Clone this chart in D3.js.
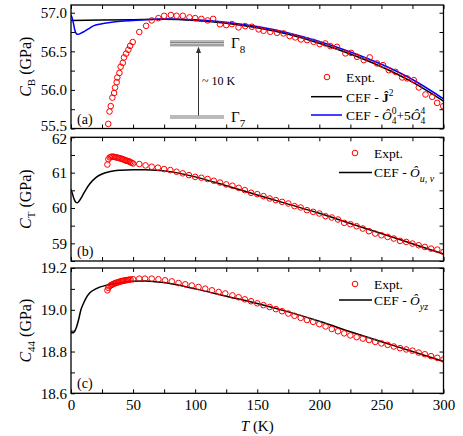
<!DOCTYPE html>
<html>
<head>
<meta charset="utf-8">
<script src="https://cdnjs.cloudflare.com/ajax/libs/d3/7.8.5/d3.min.js"></script>
<style>
body { margin: 0; background: #fff; }
svg text { font-family: "Liberation Serif", "Times New Roman", "DejaVu Serif", serif; fill: #000; }
.axis text { font-size: 15px; }
.axis line { stroke: #000; stroke-width: 1; }
.axis path { display: none; }
.legend text { font-size: 13.5px; }
</style>
</head>
<body>
<div class="chart-container"></div>
<script>
// ---------- Data ----------
// Panel (a): C_B
const tempExptA = [30, 31, 32, 33.3, 34.7, 35.5, 36.8, 37.3, 39, 40, 41.7, 42.7, 44.4, 46.2, 47.6, 49.7,
  55, 60.5, 65, 70.4, 75, 80.4, 85, 90, 95.4, 100, 105, 110, 114.5, 120, 125,
  129.6, 134.9, 140.3, 145.7, 151.1, 155.1, 160.5, 165.9, 171.2, 176.1, 180.6, 185.2, 190.1, 195.4,
  200.3, 204.8, 208.9, 214.2, 221, 225.5, 230.4, 235.8, 240.6, 246.5, 251.3, 255.9, 261.3, 266.7,
  270.7, 276.1, 280.1, 285.5, 290.9, 294.9, 299.8];
const cbExpt = [55.56, 55.72, 55.79, 55.90, 55.96, 56.03, 56.10, 56.16, 56.22, 56.30, 56.35, 56.42, 56.47, 56.52, 56.57, 56.62,
  56.75, 56.83, 56.90, 56.93, 56.96, 56.97, 56.96, 56.96, 56.94, 56.93, 56.92, 56.90, 56.92, 56.85, 56.84,
  56.853, 56.81, 56.827, 56.818, 56.784, 56.766, 56.753, 56.74, 56.732, 56.697, 56.68, 56.654, 56.645, 56.623,
  56.593, 56.602, 56.567, 56.558, 56.473, 56.48, 56.429, 56.386, 56.421, 56.343, 56.321, 56.256, 56.234, 56.161,
  56.149, 56.126, 56.032, 55.941, 55.91, 55.832, 55.789];
const tempJ2 = [0, 25, 50, 75, 100, 125, 150, 175, 200, 225, 250, 275, 300];
const cbJ2 = [56.90, 56.905, 56.91, 56.915, 56.90, 56.865, 56.805, 56.72, 56.605, 56.465, 56.30, 56.10, 55.855];
const tempO4 = [0, 1, 2, 3, 4, 5, 6, 8, 10, 14, 18, 24, 30, 40, 50, 75, 100, 125, 150, 175, 200, 225, 250, 275, 300];
const cbO4 = [56.97, 56.93, 56.86, 56.78, 56.735, 56.72, 56.72, 56.735, 56.75, 56.79, 56.83, 56.855, 56.87, 56.89, 56.90,
  56.92, 56.91, 56.878, 56.82, 56.738, 56.628, 56.492, 56.332, 56.135, 55.885];

// Panel (b): C_T
const tempExptB = [29.3, 30.1, 31.2, 32.3, 33.4, 34.5, 35.6, 36.7, 37.8, 38.9, 40, 41.1, 42.2, 43.3, 44.4, 45.5, 46.6, 47.7, 48.8, 50,
  55, 60, 65, 70, 75, 80, 85, 90, 95, 100, 105, 110, 115, 120, 125,
  130, 135, 140, 145, 150, 155, 160, 165, 170, 175, 180, 185, 190, 195, 200, 205, 210, 215, 220, 225,
  230, 235, 240, 245, 250, 255, 260, 265, 270, 275, 280, 285, 290, 295, 300];
const ctExpt = [61.23, 61.38, 61.43, 61.45, 61.45, 61.45, 61.44, 61.43, 61.42, 61.41, 61.40, 61.39, 61.37, 61.36, 61.34, 61.33, 61.32, 61.30, 61.28, 61.26,
  61.243, 61.205, 61.167, 61.14, 61.10, 61.073, 61.025, 60.98, 60.93, 60.88, 60.855, 60.82, 60.77, 60.72, 60.667,
  60.63, 60.57, 60.505, 60.43, 60.392, 60.335, 60.269, 60.222, 60.174, 60.127, 60.052, 60.014, 59.938, 59.891, 59.844,
  59.768, 59.73, 59.674, 59.579, 59.541, 59.484, 59.418, 59.343, 59.276, 59.229, 59.182, 59.135, 59.068, 59.04, 58.993,
  58.946, 58.898, 58.851, 58.823, 58.756];
const tempCefB = [0, 1, 2, 3, 4, 5, 6, 8, 10, 12, 15, 20, 25, 30, 40, 50, 60, 75, 100, 125, 150, 175, 200, 225, 250, 275, 300];
const ctCef = [60.52, 60.42, 60.30, 60.21, 60.16, 60.15, 60.17, 60.27, 60.40, 60.52, 60.68, 60.86, 60.96, 61.02, 61.07, 61.085,
  61.08, 61.05, 60.88, 60.63, 60.37, 60.11, 59.85, 59.56, 59.28, 58.99, 58.70];

// Panel (c): C_44
const tempExptC = [29.3, 30, 31, 32, 33, 34, 35, 36, 37, 38, 39, 40, 41, 42, 43, 44, 45, 46, 47, 48, 50,
  55, 59.6, 65, 70.4, 75.8, 81.2, 86.6, 92, 97.3, 102.7, 108.1, 113.5, 118.9, 124.2,
  130, 135, 140, 145, 150, 155, 160, 165, 170, 175, 180, 185, 190, 195, 200, 205, 210, 215, 220, 225,
  230, 235, 240, 245, 250, 255, 260, 265, 270, 275, 280, 285, 290, 295, 300];
const c44Expt = [19.093, 19.105, 19.112, 19.117, 19.12, 19.123, 19.126, 19.128, 19.13, 19.132, 19.134, 19.136, 19.137, 19.139, 19.14, 19.141, 19.142, 19.143, 19.144, 19.145, 19.146,
  19.149, 19.149, 19.149, 19.146, 19.141, 19.136, 19.128, 19.122, 19.116, 19.109, 19.101, 19.093, 19.085, 19.078,
  19.069, 19.060, 19.050, 19.041, 19.031, 19.022, 19.013, 19.003, 18.993, 18.982, 18.971, 18.961, 18.951, 18.942, 18.931,
  18.920, 18.908, 18.897, 18.887, 18.877, 18.869, 18.862, 18.855, 18.846, 18.839, 18.832, 18.824, 18.816, 18.810, 18.804,
  18.795, 18.787, 18.778, 18.770, 18.762];
const tempCefC = [0, 2, 4, 6, 8, 10, 12, 15, 20, 30, 40, 50, 60, 75, 100, 125, 150, 175, 200, 225, 250, 275, 300];
const c44Cef = [18.89, 18.89, 18.91, 18.95, 19.00, 19.03, 19.055, 19.08, 19.10, 19.12, 19.13, 19.137, 19.138, 19.13, 19.10,
  19.065, 19.03, 18.99, 18.945, 18.895, 18.847, 18.80, 18.752];

// Ticks
const xTicksMajor = [0, 50, 100, 150, 200, 250, 300];
const xTicksAll = [0, 25, 50, 75, 100, 125, 150, 175, 200, 225, 250, 275, 300];
const yTicksA = [55.5, 55.75, 56.0, 56.25, 56.5, 56.75, 57.0];
const yLabelsA = [55.5, 56.0, 56.5, 57.0];
const yTicksB = [58.5, 59, 59.5, 60, 60.5, 61, 61.5, 62];
const yLabelsB = [59, 60, 61, 62];
const yTicksC = [18.6, 18.7, 18.8, 18.9, 19.0, 19.1, 19.2];
const yLabelsC = [18.6, 18.8, 19.0, 19.2];

// ---------- Layout ----------
const W = 463, H = 436;
const left = 71, right = 443.5;
const xScale = d3.scaleLinear().domain([0, 300]).range([left, right]);

const svg = d3.select('.chart-container')
  .append('svg')
  .attr('width', W)
  .attr('height', H);

const zip = (xs, ys) => xs.map((x, i) => ({t: x, c: ys[i]}));

function drawPanel(cfg) {
  const yScale = d3.scaleLinear().domain(cfg.domain).range([cfg.bottom, cfg.top]);
  const g = svg.append('g').attr('class', 'panel');

  // Axes with inward ticks on all four sides
  const fmt = cfg.fmt;
  const yAxisG = g.append('g').attr('class', 'axis')
    .attr('transform', `translate(${left},0)`)
    .call(d3.axisLeft(yScale).tickValues(cfg.yTicks)
      .tickSizeInner(-4).tickSizeOuter(0).tickPadding(4)
      .tickFormat(d => cfg.yLabels.some(v => Math.abs(v - d) < 1e-6) ? fmt(d) : ''));
  // nudge the end labels apart where two panels meet
  if (cfg.lowShift) yAxisG.selectAll('.tick text').filter(d => d === cfg.domain[0]).attr('y', cfg.lowShift);
  if (cfg.highShift) yAxisG.selectAll('.tick text').filter(d => d === cfg.domain[1]).attr('y', cfg.highShift);
  g.append('g').attr('class', 'axis')
    .attr('transform', `translate(${right},0)`)
    .call(d3.axisRight(yScale).tickValues(cfg.yTicks).tickSizeInner(-4).tickSizeOuter(0).tickFormat(''));
  g.append('g').attr('class', 'axis')
    .attr('transform', `translate(0,${cfg.top})`)
    .call(d3.axisTop(xScale).tickValues(xTicksAll).tickSizeInner(-4).tickSizeOuter(0).tickFormat(''));
  g.append('g').attr('class', 'axis')
    .attr('transform', `translate(0,${cfg.bottom})`)
    .call(d3.axisBottom(xScale).tickValues(xTicksAll)
      .tickSizeInner(-4).tickSizeOuter(0).tickPadding(6)
      .tickFormat(d => (cfg.xLabels && xTicksMajor.includes(d)) ? d : ''));

  // Clip and curves
  const clipId = 'clip-' + cfg.name;
  g.append('clipPath').attr('id', clipId)
    .append('rect')
    .attr('x', left).attr('y', cfg.top)
    .attr('width', right - left).attr('height', cfg.bottom - cfg.top);

  const line = d3.line()
    .x(d => xScale(d.t))
    .y(d => yScale(d.c))
    .curve(d3.curveMonotoneX);

  const plot = g.append('g').attr('clip-path', `url(#${clipId})`);
  cfg.lines.forEach(l => {
    plot.append('path')
      .datum(zip(l.t, l.c))
      .attr('d', line)
      .attr('fill', 'none')
      .attr('stroke', l.color)
      .attr('stroke-width', 1.5);
  });

  plot.append('g')
    .selectAll('circle')
    .data(zip(cfg.exptT, cfg.exptC))
    .join('circle')
    .attr('cx', d => xScale(d.t))
    .attr('cy', d => yScale(d.c))
    .attr('r', 2.8)
    .attr('fill', 'none')
    .attr('stroke', '#ff0000')
    .attr('stroke-width', 1);

  // Frame
  g.append('rect')
    .attr('x', left).attr('y', cfg.top)
    .attr('width', right - left).attr('height', cfg.bottom - cfg.top)
    .attr('fill', 'none')
    .attr('stroke', '#000')
    .attr('stroke-width', 1.3);

  // Panel letter
  g.append('text')
    .attr('x', left + 6).attr('y', cfg.bottom - 5)
    .style('font-size', '14px')
    .text(cfg.letter);

  // Y title
  const mid = (cfg.top + cfg.bottom) / 2;
  const yt = g.append('text')
    .attr('transform', `translate(31,${mid}) rotate(-90)`)
    .attr('text-anchor', 'middle')
    .style('font-size', '16px');
  yt.append('tspan').style('font-style', 'italic').text('C');
  yt.append('tspan').attr('dy', 4).style('font-size', '11px').text(cfg.sub);
  yt.append('tspan').attr('dy', -4).text(' (GPa)');

  return {g, yScale};
}

// Legend helpers
function legendCircle(g, x, y) {
  g.append('circle').attr('cx', x).attr('cy', y).attr('r', 2.8)
    .attr('fill', 'none').attr('stroke', '#ff0000').attr('stroke-width', 1);
}
function legendLine(g, x1, x2, y, color) {
  g.append('line').attr('x1', x1).attr('x2', x2).attr('y1', y).attr('y2', y)
    .attr('stroke', color).attr('stroke-width', 1.5);
}

// ---------- Panel (a) ----------
drawPanel({
  name: 'a', letter: '(a)', sub: 'B', top: 5, bottom: 128.5, lowShift: -3,
  domain: [55.5, 57.1], yTicks: yTicksA, yLabels: yLabelsA, fmt: d3.format('.1f'),
  exptT: tempExptA, exptC: cbExpt,
  lines: [
    {t: tempJ2, c: cbJ2, color: '#000'},
    {t: tempO4, c: cbO4, color: '#0000ff'}
  ]
});

// energy level scheme
const levels = svg.append('g').attr('class', 'levels');
[41, 42.6, 44.2, 45.8].forEach(y => {
  levels.append('line').attr('x1', 170).attr('x2', 224).attr('y1', y).attr('y2', y)
    .attr('stroke', '#777').attr('stroke-width', 1);
});
[116, 118].forEach(y => {
  levels.append('line').attr('x1', 170).attr('x2', 224).attr('y1', y).attr('y2', y)
    .attr('stroke', '#777').attr('stroke-width', 1);
});
levels.append('line').attr('x1', 198.5).attr('x2', 198.5).attr('y1', 115.5).attr('y2', 52)
  .attr('stroke', '#333').attr('stroke-width', 1);
levels.append('path').attr('d', 'M198.5,46.5 L196,53 L201,53 Z').attr('fill', '#333');
levels.append('text').attr('x', 202).attr('y', 85).style('font-size', '12px').text('~ 10 K');
const g8 = levels.append('text').attr('x', 231).attr('y', 48).style('font-size', '15px');
g8.append('tspan').text('Γ');
g8.append('tspan').attr('dy', 5).style('font-size', '11px').text('8');
const g7 = levels.append('text').attr('x', 231).attr('y', 121.5).style('font-size', '15px');
g7.append('tspan').text('Γ');
g7.append('tspan').attr('dy', 5).style('font-size', '11px').text('7');

// legend (a)
const legA = svg.append('g').attr('class', 'legend');
legendCircle(legA, 327, 77);
legA.append('text').attr('x', 346).attr('y', 81.5).text('Expt.');
legendLine(legA, 311, 342, 96.7, '#000');
const tJ = legA.append('text').attr('x', 346).attr('y', 101.5);
tJ.append('tspan').text('CEF - ');
tJ.append('tspan').style('font-weight', 'bold').text('Ĵ');
tJ.append('tspan').attr('dy', -6).style('font-size', '9.5px').text('2');
legendLine(legA, 311, 342, 115, '#0000ff');
const tO = legA.append('text').attr('x', 346).attr('y', 119.5);
tO.append('tspan').text('CEF - ');
tO.append('tspan').style('font-style', 'italic').text('Ô');
tO.append('tspan').attr('dy', -6).style('font-size', '9.5px').text('0');
tO.append('tspan').attr('dx', -4.8).attr('dy', 10).style('font-size', '9.5px').text('4');
tO.append('tspan').attr('dy', -4).text('+5');
tO.append('tspan').style('font-style', 'italic').text('Ô');
tO.append('tspan').attr('dy', -6).style('font-size', '9.5px').text('4');
tO.append('tspan').attr('dx', -4.8).attr('dy', 10).style('font-size', '9.5px').text('4');

// ---------- Panel (b) ----------
drawPanel({
  name: 'b', letter: '(b)', sub: 'T', top: 137.3, bottom: 261, highShift: 1,
  domain: [58.5, 62], yTicks: yTicksB, yLabels: yLabelsB, fmt: d3.format('d'),
  exptT: tempExptB, exptC: ctExpt,
  lines: [{t: tempCefB, c: ctCef, color: '#000'}]
});
const legB = svg.append('g').attr('class', 'legend');
legendCircle(legB, 355, 153);
legB.append('text').attr('x', 374).attr('y', 157.5).text('Expt.');
legendLine(legB, 339, 372, 172.5, '#000');
const tB = legB.append('text').attr('x', 374).attr('y', 177);
tB.append('tspan').text('CEF - ');
tB.append('tspan').style('font-style', 'italic').text('Ô');
tB.append('tspan').attr('dy', 5).style('font-size', '10px').style('font-style', 'italic').text('u, v');

// ---------- Panel (c) ----------
drawPanel({
  name: 'c', letter: '(c)', sub: '44', top: 268, bottom: 393.3,
  domain: [18.6, 19.2], yTicks: yTicksC, yLabels: yLabelsC, fmt: d3.format('.1f'),
  exptT: tempExptC, exptC: c44Expt, xLabels: true,
  lines: [{t: tempCefC, c: c44Cef, color: '#000'}]
});
const legC = svg.append('g').attr('class', 'legend');
legendCircle(legC, 355, 284);
legC.append('text').attr('x', 374).attr('y', 288.5).text('Expt.');
legendLine(legC, 339, 372, 300, '#000');
const tC = legC.append('text').attr('x', 374).attr('y', 304.5);
tC.append('tspan').text('CEF - ');
tC.append('tspan').style('font-style', 'italic').text('Ô');
tC.append('tspan').attr('dy', 5).style('font-size', '10px').style('font-style', 'italic').text('yz');

// X title
const xt = svg.append('text')
  .attr('x', (left + right) / 2).attr('y', 431)
  .attr('text-anchor', 'middle')
  .style('font-size', '15px');
xt.append('tspan').style('font-style', 'italic').text('T');
xt.append('tspan').text(' (K)');
</script>
</body>
</html>
